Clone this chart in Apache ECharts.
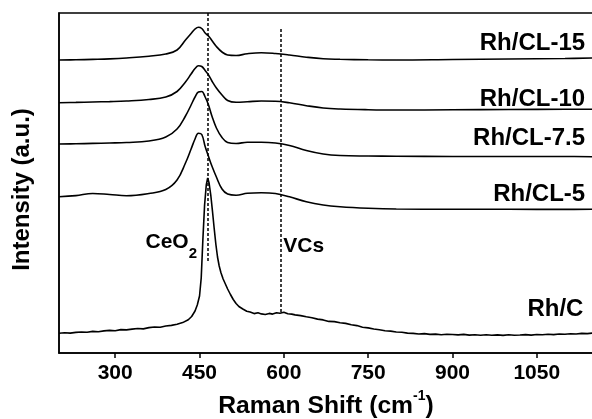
<!DOCTYPE html>
<html>
<head>
<meta charset="utf-8">
<script src="https://cdn.jsdelivr.net/npm/echarts@6/dist/echarts.min.js"></script>
<style>
  html, body { margin: 0; padding: 0; background: #fff; }
  #chart { width: 592px; height: 419px; }
</style>
</head>
<body>
<div id="chart"></div>
<script>
const FONT = '"Liberation Sans", Arial, Helvetica, sans-serif';

// Raman shift grid (cm-1) shared by the Rh/CL spectra
const shiftGrid = [200, 230, 260, 290, 320, 360, 390, 410, 425, 435, 442, 448, 454, 460, 466, 472, 480, 490, 500, 515, 535, 560, 585, 610, 640, 670, 700, 750, 800, 900, 1000, 1100, 1150];

// Stacked spectra (offset intensity, a.u.)
const rhCL15 = [293.0, 293.2, 293.6, 294.1, 295.0, 296.8, 299.0, 303.0, 313.0, 319.5, 324.0, 325.8, 324.5, 320.0, 317.0, 312.5, 306.5, 301.0, 298.0, 297.5, 299.3, 300.3, 299.5, 298.0, 295.8, 294.2, 293.7, 293.2, 293.0, 293.5, 294.0, 294.5, 295.0];
const rhCL10 = [250.3, 250.6, 251.0, 251.4, 252.0, 253.5, 256.0, 261.5, 271.0, 279.0, 284.5, 287.2, 286.5, 282.5, 278.0, 272.0, 265.0, 258.0, 252.5, 250.7, 251.2, 252.0, 251.8, 250.2, 247.3, 245.0, 244.0, 243.3, 243.0, 243.2, 243.5, 243.7, 243.7];
const rhCL75 = [209.0, 209.2, 209.6, 210.0, 210.5, 212.0, 216.0, 224.0, 237.0, 248.0, 256.0, 261.0, 261.5, 256.0, 248.0, 237.0, 225.0, 215.5, 210.5, 209.5, 210.7, 210.8, 210.0, 207.5, 202.5, 199.0, 197.5, 197.0, 196.8, 196.5, 196.5, 196.5, 196.3];
const rhCL5 = [156.3, 157.4, 159.5, 158.5, 157.3, 159.5, 163.5, 173.0, 190.0, 204.0, 214.0, 219.8, 218.5, 206.5, 196.5, 187.0, 176.0, 164.0, 159.0, 157.8, 159.7, 160.3, 159.5, 156.2, 151.2, 148.0, 146.3, 144.8, 144.0, 143.7, 143.7, 143.6, 143.7];

// Rh/C spectrum, sampled more densely (sharp CeO2 band and noisy baseline)
const rhCShift = [200, 210, 220, 230, 240, 250, 260, 270, 280, 290, 300, 310, 320, 330, 340, 350, 360, 370, 380, 390, 400, 410, 420, 430, 436, 442, 446, 450, 453, 456, 459, 462, 464.5, 467, 470, 473, 476, 479, 482, 485, 488, 492, 496, 500, 505, 510, 515, 520, 527, 534, 540, 547, 554, 560, 567, 574, 580, 587, 593, 600, 607, 614, 620, 630, 640, 650, 660, 670, 680, 690, 700, 710, 720, 730, 740, 750, 760, 770, 780, 790, 800, 810, 820, 830, 840, 850, 860, 870, 880, 890, 900, 910, 920, 930, 940, 950, 960, 970, 980, 990, 1000, 1010, 1020, 1030, 1040, 1050, 1060, 1070, 1080, 1090, 1100, 1110, 1120, 1130, 1140, 1150];
const rhC = [19.7, 20.3, 19.9, 20.6, 21.0, 20.8, 21.6, 21.3, 22.1, 22.6, 22.2, 23.4, 23.1, 23.9, 24.5, 24.1, 25.4, 26.0, 25.7, 27.0, 27.6, 28.8, 30.4, 33.2, 36.5, 42.0, 48.0, 57.0, 75.0, 114.0, 148.0, 168.0, 175.0, 170.0, 158.0, 142.0, 125.0, 109.0, 96.0, 87.0, 80.5, 74.0, 69.0, 64.0, 58.5, 53.5, 49.5, 46.5, 44.0, 41.8, 40.9, 39.4, 40.2, 39.1, 38.5, 39.6, 38.9, 40.3, 39.7, 40.8, 39.2, 38.9, 38.1, 37.4, 36.2, 35.3, 33.9, 33.1, 31.6, 31.4, 30.3, 29.6, 28.2, 27.4, 25.8, 25.1, 24.0, 23.3, 22.3, 21.9, 21.0, 20.7, 19.9, 19.6, 19.0, 19.4, 18.6, 18.9, 18.3, 18.8, 18.5, 18.1, 18.6, 17.9, 18.3, 17.8, 18.2, 17.7, 18.1, 17.6, 18.3, 17.8, 18.0, 18.4, 17.9, 18.5, 18.2, 18.8, 18.4, 19.0, 18.7, 19.3, 19.0, 19.6, 19.4, 20.0];

// Axis ticks
const xTicks = [300, 450, 600, 750, 900, 1050];

// Sample labels and their anchor positions (shift, intensity)
const sampleNames = ['Rh/CL-15', 'Rh/CL-10', 'Rh/CL-7.5', 'Rh/CL-5', 'Rh/C'];
const labelShift = [1136, 1136, 1136, 1136, 1133];
const labelHeights = [310, 254, 215, 158.3, 43.8];

// Reference band positions (dashed guides)
const markerShift = [465, 594];
const markerTop = [340, 324];
const markerBottom = [91, 40];

function pairs(xs, ys) { return xs.map((x, i) => [x, ys[i]]); }

const chart = echarts.init(document.getElementById('chart'), null, { renderer: 'canvas' });

function curve(name, data, smooth) {
  return {
    type: 'line', name: name, data: data, smooth: smooth, symbol: 'none',
    lineStyle: { color: '#000', width: 1.6 }, z: 3, silent: true
  };
}

const series = [
  curve('Rh/CL-15', pairs(shiftGrid, rhCL15), 0.4),
  curve('Rh/CL-10', pairs(shiftGrid, rhCL10), 0.4),
  curve('Rh/CL-7.5', pairs(shiftGrid, rhCL75), 0.4),
  curve('Rh/CL-5', pairs(shiftGrid, rhCL5), 0.4),
  curve('Rh/C', pairs(rhCShift, rhC), false)
];
series[4].markLine = {
  silent: true, symbol: 'none', animation: false,
  label: { show: false },
  lineStyle: { color: '#000', width: 1.5, type: [3, 2] },
  data: markerShift.map((s, i) => [{ coord: [s, markerTop[i]] }, { coord: [s, markerBottom[i]] }])
};

const option = {
  animation: false,
  grid: {
    left: 59, right: -1, top: 13, bottom: 66, outerBoundsMode: 'none', containLabel: false,
    show: true, borderColor: '#000', borderWidth: 1.5
  },
  xAxis: {
    type: 'value', min: 200, max: 1150,
    axisLine: { show: true, lineStyle: { color: '#000', width: 1.5 } },
    axisTick: { show: true, customValues: xTicks, length: 5, inside: false, lineStyle: { color: '#000', width: 1.5 } },
    axisLabel: {
      customValues: xTicks, formatter: v => String(v),
      color: '#000', fontSize: 21, fontWeight: 'bold', fontFamily: FONT, margin: 10
    },
    splitLine: { show: false },
    name: 'Raman Shift (cm{sup|-1})',
    nameLocation: 'middle', nameGap: 35,
    nameTextStyle: {
      color: '#000', fontSize: 24.7, fontWeight: 'bold', fontFamily: FONT, lineHeight: 34,
      rich: { sup: { color: '#000', fontSize: 14, fontWeight: 'bold', fontFamily: FONT, lineHeight: 14, verticalAlign: 'top' } }
    }
  },
  yAxis: {
    type: 'value', min: 0, max: 340,
    axisLine: { show: true, lineStyle: { color: '#000', width: 1.5 } },
    axisTick: { show: false }, axisLabel: { show: false }, splitLine: { show: false }
  },
  series: series
};
chart.setOption(option);

// Text annotations anchored to data coordinates
const toPx = (x, y) => chart.convertToPixel({ gridIndex: 0 }, [x, y]);
const texts = sampleNames.map((name, i) => {
  const p = toPx(labelShift[i], labelHeights[i]);
  return {
    type: 'text', x: p[0], y: p[1], silent: true,
    style: { text: name, fill: '#000', fontSize: 24, fontWeight: 'bold', fontFamily: FONT, align: 'right', verticalAlign: 'middle' }
  };
});
const ceo = toPx(445.5, 110.5);
texts.push({
  type: 'text', x: ceo[0], y: ceo[1], silent: true,
  style: {
    text: '{m|CeO}{s|2}', align: 'right', verticalAlign: 'middle',
    rich: {
      m: { fill: '#000', fontSize: 21, fontWeight: 'bold', fontFamily: FONT, lineHeight: 38 },
      s: { fill: '#000', fontSize: 15, fontWeight: 'bold', fontFamily: FONT, lineHeight: 15, verticalAlign: 'bottom' }
    }
  }
});
const vcs = toPx(599, 107.2);
texts.push({
  type: 'text', x: vcs[0], y: vcs[1], silent: true,
  style: { text: 'VCs', fill: '#000', fontSize: 21, fontWeight: 'bold', fontFamily: FONT, align: 'left', verticalAlign: 'middle' }
});
texts.push({
  type: 'text', x: 22.5, y: 189.5, rotation: Math.PI / 2, silent: true,
  style: { text: 'Intensity (a.u.)', fill: '#000', fontSize: 24, fontWeight: 'bold', fontFamily: FONT, align: 'center', verticalAlign: 'middle' }
});
chart.setOption({ graphic: texts });
</script>
</body>
</html>
